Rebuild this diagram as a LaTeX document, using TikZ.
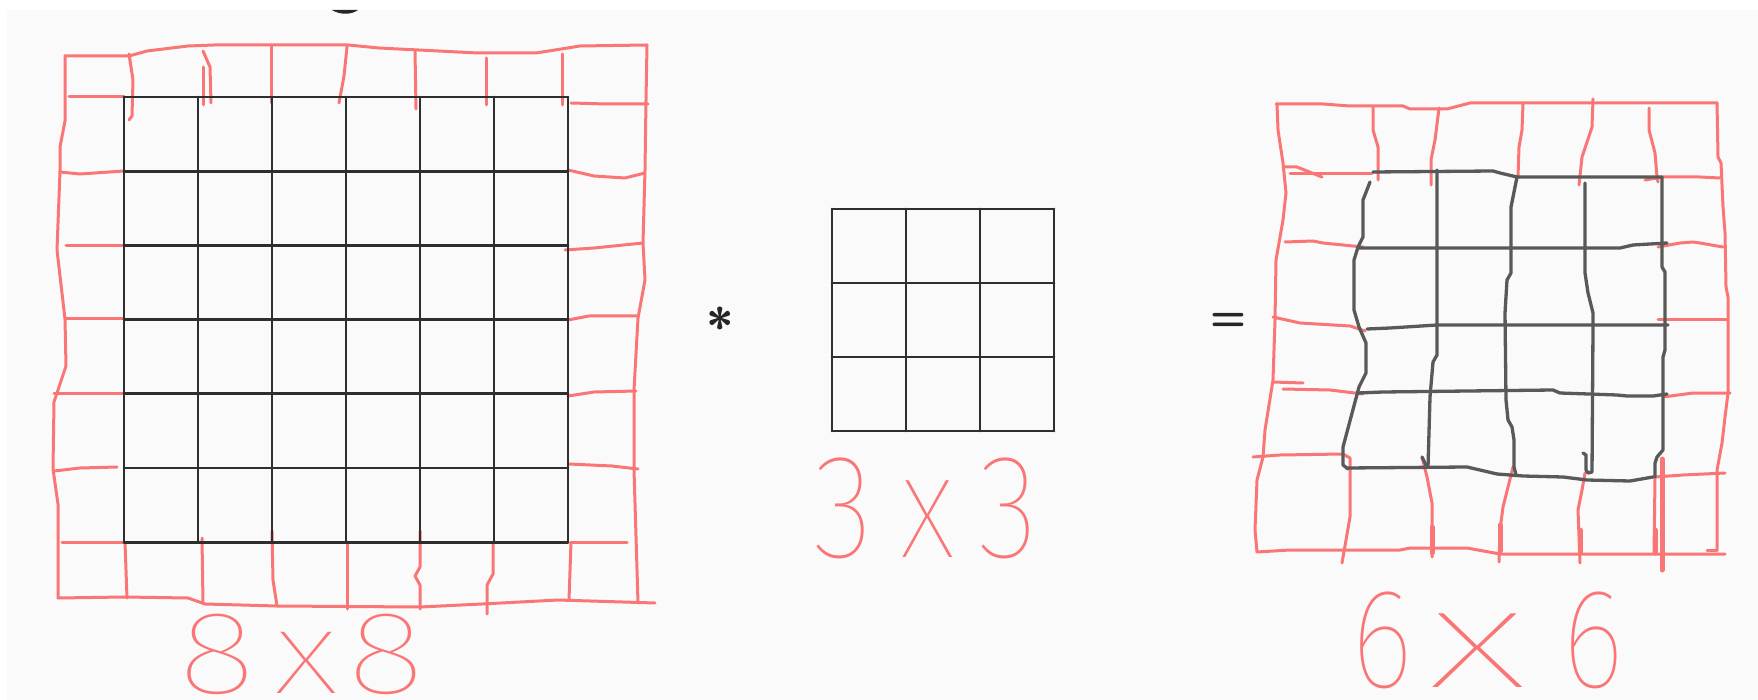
\documentclass[tikz,border=0pt]{standalone}
\usepackage{fontspec}
\usepackage{xcolor}
\newfontfamily\handfont{Fira Sans Thin}[FakeStretch=0.85]
\newfontfamily\handwide{Fira Sans Thin}[FakeStretch=1.25]
\newfontfamily\handcross{Fira Sans Thin}[FakeStretch=1.6]
\definecolor{sketchred}{RGB}{250,118,118}
\definecolor{paper}{RGB}{250,250,250}

\begin{document}
\begin{tikzpicture}[
    x=1pt, y=-1pt,
    line join=round, line cap=round,
    redline/.style={draw=sketchred, line width=3pt},
    gridline/.style={draw=black!82, line width=2.8pt},
    handline/.style={draw=black!65, line width=3.3pt},
    sizelabel/.style={text=sketchred, inner sep=0pt},
    opsign/.style={text=black!85, inner sep=0pt, font=\sffamily\bfseries}
]

    % Paper
    \fill[white] (0,0) rectangle (1758,700);
    \fill[paper] (7,10) rectangle (1758,700);
    \useasboundingbox (0,0) rectangle (1758,700);
    \fill[black!85] (332,10) .. controls (340,15) and (351,15) .. (358,10) -- cycle;

    % ---------- Input 8x8 ----------
    % Padding ring (red)
    \draw[redline] (65,56) -- (129,56) -- (147,51) -- (188,46) -- (214,45) -- (348,45)
        -- (379,48) -- (478,53) -- (536,53) -- (580,46) -- (647,45);
    \draw[redline] (647,45) -- (646,100) -- (645,170) -- (643,243) -- (645,280)
        -- (638,318) -- (634,390) -- (634,470) -- (638,603);
    \draw[redline] (58,598) -- (125,597) -- (188,598) -- (205,604) -- (277,606)
        -- (420,607) -- (482,604) -- (558,600) -- (655,603);
    \draw[redline] (65,56) -- (65,121) -- (60,147) -- (60,171) -- (57,250) -- (65,319)
        -- (66,366) -- (54,402) -- (53,469) -- (58,504) -- (58,598);
    % left ends of the rows
    \draw[redline] (69,97) -- (124,97);
    \draw[redline] (60,172) -- (80,174) -- (124,171);
    \draw[redline] (66,246) -- (124,246);
    \draw[redline] (65,319) -- (124,319);
    \draw[redline] (54,393) -- (124,393);
    \draw[redline] (54,471) -- (80,468) -- (117,467);
    \draw[redline] (62,542) -- (124,542);
    % right ends of the rows
    \draw[redline] (571,103) -- (607,104) -- (648,104);
    \draw[redline] (568,170) -- (594,176) -- (625,178) -- (645,173);
    \draw[redline] (565,250) -- (594,248) -- (643,243);
    \draw[redline] (568,320) -- (589,316) -- (638,316);
    \draw[redline] (568,396) -- (594,392) -- (636,391);
    \draw[redline] (569,464) -- (612,466) -- (638,469);
    \draw[redline] (571,542) -- (627,542);
    % top ends of the columns
    \draw[redline] (129,54) -- (133,80) -- (132,116) -- (129,120);
    \draw[redline] (203,51) -- (210,67) -- (211,103);
    \draw[redline] (203,67) -- (203,105);
    \draw[redline] (271,45) -- (271,103);
    \draw[redline] (347,47) -- (344,76) -- (339,103);
    \draw[redline] (415,51) -- (416,109);
    \draw[redline] (486,58) -- (486,105);
    \draw[redline] (562,54) -- (562,105);
    % bottom ends of the columns
    \draw[redline] (125,542) -- (127,598);
    \draw[redline] (202,538) -- (203,603);
    \draw[redline] (272,531) -- (273,580) -- (277,606);
    \draw[redline] (347,542) -- (347,609);
    \draw[redline] (420,531) -- (420,567) -- (415,576) -- (420,585) -- (420,609);
    \draw[redline] (493,542) -- (493,574) -- (487,585) -- (487,614);
    \draw[redline] (571,542) -- (569,600);
    % 6x6 grid (black)
    \foreach \i in {0,...,6} {
        \draw[gridline] (124+74*\i,97) -- (124+74*\i,542);
        \draw[gridline] (124,97+74.2*\i) -- (568,97+74.2*\i);
    }
    \node[sizelabel, font=\handwide\fontsize{118}{118}\selectfont] (size8) at (302,654)
        {8\hspace{18pt}x\hspace{10pt}8};

    % ---------- Kernel 3x3 ----------
    \node[opsign, font=\sffamily\bfseries\fontsize{50}{50}\selectfont] (star) at (720,326) {*};
    \foreach \i in {0,...,3} {
        \draw[gridline] (832+74*\i,209) -- (832+74*\i,431);
        \draw[gridline] (832,209+74*\i) -- (1054,209+74*\i);
    }
    \node[sizelabel, font=\handfont\fontsize{148}{148}\selectfont] (size3) at (926,508)
        {3\hspace{27pt}x\hspace{24pt}3};

    % ---------- Output 6x6 ----------
    \node[opsign, font=\sffamily\bfseries\fontsize{42}{42}\selectfont] (equals) at (1228,322) {=};
    % outer ring (red)
    \draw[redline] (1276,104) -- (1323,104) -- (1350,106) -- (1403,106) -- (1410,109)
        -- (1447,109) -- (1470,103) -- (1717,103);
    \draw[redline] (1717,103) -- (1718,157) -- (1721,163) -- (1723,207) -- (1725,233)
        -- (1726,287) -- (1728,297) -- (1728,393) -- (1725,417) -- (1722,443)
        -- (1717,470) -- (1717,550);
    \draw[redline] (1257,552) -- (1290,550) -- (1400,550) -- (1410,548) -- (1467,548)
        -- (1500,554) -- (1725,554);
    \draw[redline] (1707,550) -- (1717,550);
    \draw[redline] (1277,104) -- (1278,130) -- (1283,163) -- (1286,193) -- (1283,220)
        -- (1276,260) -- (1275,320) -- (1273,380) -- (1265,430) -- (1263,457)
        -- (1257,480) -- (1255,530) -- (1257,552);
    % left ends of the rows
    \draw[redline] (1283,167) -- (1297,167) -- (1322,177);
    \draw[redline] (1290,174) -- (1372,174);
    \draw[redline] (1285,242) -- (1313,241) -- (1323,243) -- (1363,247);
    \draw[redline] (1273,317) -- (1300,323) -- (1350,326) -- (1365,331);
    \draw[redline] (1273,382) -- (1303,383);
    \draw[redline] (1283,389) -- (1330,390) -- (1363,394);
    \draw[redline] (1253,457) -- (1280,455) -- (1343,454) -- (1350,458) -- (1350,517) -- (1342,563);
    % right ends of the rows
    \draw[redline] (1645,180) -- (1663,177) -- (1700,177) -- (1720,178);
    \draw[redline] (1658,247) -- (1680,243) -- (1693,242) -- (1700,243) -- (1723,247);
    \draw[redline] (1658,320) -- (1727,320);
    \draw[redline] (1663,397) -- (1693,393) -- (1730,393);
    \draw[redline] (1655,477) -- (1683,475) -- (1725,473);
    % top ends of the columns
    \draw[redline] (1373,107) -- (1373,130) -- (1378,147) -- (1378,180);
    \draw[redline] (1439,108) -- (1435,140) -- (1431,160) -- (1431,185);
    \draw[redline] (1523,103) -- (1522,130) -- (1519,147) -- (1518,177);
    \draw[redline] (1593,99) -- (1592,127) -- (1582,157) -- (1579,185);
    \draw[redline] (1649,108) -- (1649,130) -- (1655,153) -- (1657,177) -- (1658,182);
    % bottom ends of the columns
    \draw[redline] (1422,457) -- (1427,477) -- (1432,503) -- (1432,557);
    \draw[redline] (1513,467) -- (1503,507) -- (1500,530) -- (1499,562);
    \draw[redline] (1585,473) -- (1582,490) -- (1578,510) -- (1580,563);
    \draw[redline] (1655,477) -- (1654,553);
    \draw[redline, line width=5pt] (1662,459) -- (1662,570);
    \draw[redline, line width=5pt] (1432,527) -- (1432,553);
    \draw[redline, line width=5pt] (1500,525) -- (1500,551);
    \draw[redline, line width=5pt] (1580,530) -- (1580,553);
    \draw[redline, line width=5pt] (1655,530) -- (1655,553);
    % 4x4 grid drawn by hand (black)
    \draw[handline] (1373,172) -- (1493,171) -- (1500,173) -- (1517,177) -- (1662,177);
    \draw[handline] (1358,248) -- (1620,248) -- (1633,245) -- (1667,243);
    \draw[handline] (1367,329) -- (1390,328) -- (1437,325) -- (1668,325);
    \draw[handline] (1358,393) -- (1383,392) -- (1553,390) -- (1560,393) -- (1617,395)
        -- (1627,396) -- (1653,396) -- (1667,394);
    \draw[handline] (1347,468) -- (1467,467) -- (1497,474) -- (1523,476) -- (1563,477)
        -- (1587,480) -- (1630,481) -- (1653,477);
    \draw[handline] (1370,182) -- (1363,200) -- (1363,237) -- (1358,247) -- (1354,260)
        -- (1354,310) -- (1359,327) -- (1366,343) -- (1366,373) -- (1359,387)
        -- (1343,447) -- (1343,465) -- (1348,469);
    \draw[handline] (1437,170) -- (1437,355) -- (1433,362) -- (1430,397) -- (1428,467);
    \draw[handline] (1422,457) -- (1427,467);
    \draw[handline] (1517,177) -- (1515,187) -- (1511,207) -- (1511,273) -- (1507,280)
        -- (1505,313) -- (1506,400) -- (1508,420) -- (1512,427) -- (1514,440)
        -- (1514,467) -- (1516,475);
    \draw[handline] (1585,183) -- (1585,273) -- (1588,293) -- (1593,313) -- (1593,327)
        -- (1592,472) -- (1588,473) -- (1586,470) -- (1586,455) -- (1583,453);
    \draw[handline] (1662,177) -- (1662,267) -- (1665,272) -- (1665,350) -- (1663,357)
        -- (1663,450) -- (1657,457) -- (1655,463) -- (1655,477);
    \node[sizelabel, font=\handfont\fontsize{142}{142}\selectfont] (size6) at (1488,640)
        {6\hspace{15pt}{\handcross x}\hspace{35pt}6};

\end{tikzpicture}
\end{document}
